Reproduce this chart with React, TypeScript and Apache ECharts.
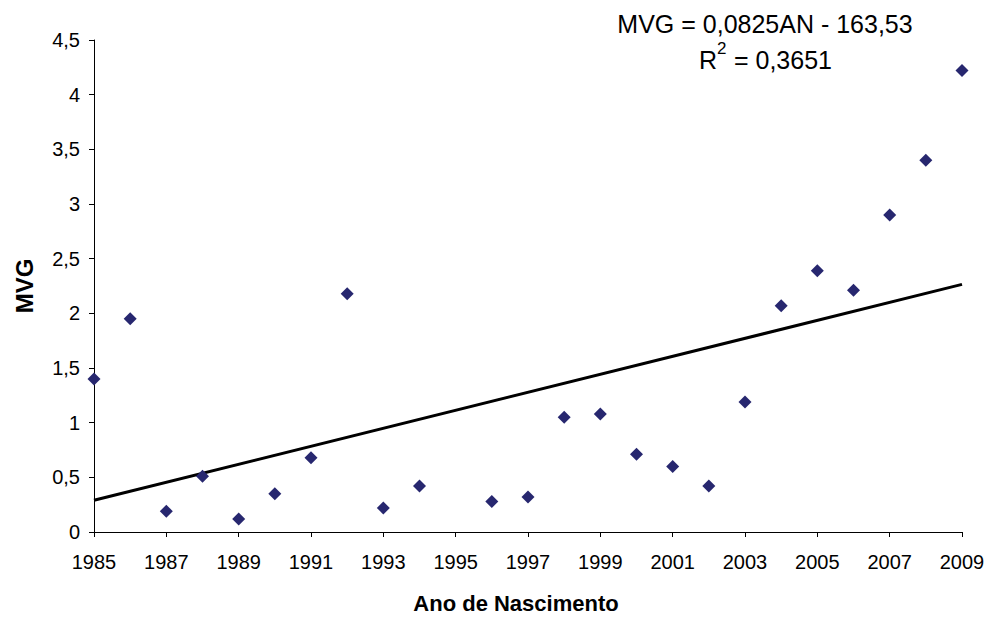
import React, { useEffect, useRef } from "react";
import * as echarts from "echarts";

const years = [1985, 1986, 1987, 1988, 1989, 1990, 1991, 1992, 1993, 1994, 1996, 1997, 1998, 1999, 2000, 2001, 2002, 2003, 2004, 2005, 2006, 2007, 2008, 2009];
const mvg = [1.40, 1.95, 0.19, 0.51, 0.12, 0.35, 0.68, 2.18, 0.22, 0.42, 0.28, 0.32, 1.05, 1.08, 0.71, 0.60, 0.42, 1.19, 2.07, 2.39, 2.21, 2.90, 3.40, 4.22];
const trendYears = [1985, 2009];
const trendValues = [0.29, 2.265];
const equationText = "MVG = 0,0825AN - 163,53";
const r2Value = " = 0,3651";

const FONT = "'Liberation Sans', Arial, sans-serif";

export default function App() {
  const ref = useRef<HTMLDivElement>(null);
  useEffect(() => {
    if (!ref.current) return;
    const chart = echarts.init(ref.current, undefined, { renderer: "svg" });
    chart.setOption({
      animation: false,
      backgroundColor: "#ffffff",
      grid: { left: 94, right: 27, top: 40, bottom: 86, containLabel: false },
      xAxis: {
        type: "value",
        min: 1985,
        max: 2009,
        interval: 2,
        name: "Ano de Nascimento",
        nameLocation: "middle",
        nameGap: 60,
        nameTextStyle: { fontFamily: FONT, fontSize: 22, fontWeight: "bold", color: "#000", padding: [0, 24, 0, 0] },
        axisLine: { show: true, lineStyle: { color: "#000", width: 1 } },
        axisTick: { show: true, inside: false, length: 5, lineStyle: { color: "#000" } },
        axisLabel: { fontFamily: FONT, fontSize: 20, color: "#000", margin: 20, formatter: (v: number) => String(v) },
        splitLine: { show: false },
      },
      yAxis: {
        type: "value",
        min: 0,
        max: 4.5,
        interval: 0.5,
        name: "MVG",
        nameLocation: "middle",
        nameGap: 58,
        nameTextStyle: { fontFamily: FONT, fontSize: 24, fontWeight: "bold", color: "#000" },
        axisLine: { show: true, lineStyle: { color: "#000", width: 1 } },
        axisTick: { show: true, inside: false, length: 5, lineStyle: { color: "#000" } },
        axisLabel: {
          fontFamily: FONT,
          fontSize: 20,
          color: "#000",
          margin: 14,
          formatter: (v: number) => String(v).replace(".", ","),
        },
        splitLine: { show: false },
      },
      series: [
        {
          type: "line",
          data: trendYears.map((y, i) => [y, trendValues[i]]),
          showSymbol: false,
          symbol: "none",
          lineStyle: { color: "#000", width: 3 },
          z: 2,
        },
        {
          type: "scatter",
          data: years.map((y, i) => [y, mvg[i]]),
          symbol: "diamond",
          symbolSize: 13,
          itemStyle: { color: "#27276F", opacity: 1 },
          z: 3,
        },
      ],
      graphic: [
        {
          type: "text",
          x: 765,
          y: 24,
          style: { text: equationText, fontFamily: FONT, fontSize: 25, fill: "#000", align: "center", verticalAlign: "middle" },
        },
        {
          type: "text",
          x: 699,
          y: 60,
          style: { text: "R", fontFamily: FONT, fontSize: 25, fill: "#000", align: "left", verticalAlign: "middle" },
        },
        {
          type: "text",
          x: 717,
          y: 48,
          style: { text: "2", fontFamily: FONT, fontSize: 17, fill: "#000", align: "left", verticalAlign: "middle" },
        },
        {
          type: "text",
          x: 727,
          y: 60,
          style: { text: r2Value, fontFamily: FONT, fontSize: 25, fill: "#000", align: "left", verticalAlign: "middle" },
        },
      ],
    });
    return () => chart.dispose();
  }, []);
  return (
    <div
      ref={ref}
      style={{ position: "fixed", left: 0, top: 0, width: 989, height: 619, background: "#fff" }}
    />
  );
}
